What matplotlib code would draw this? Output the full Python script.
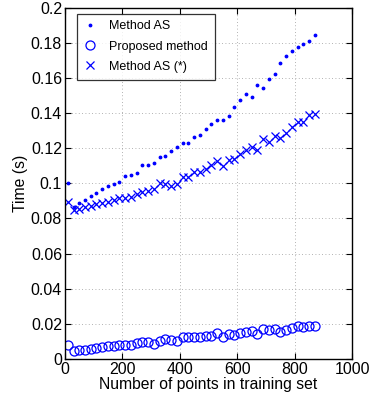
import matplotlib
matplotlib.use("Agg")
import matplotlib.pyplot as plt

# training set sizes
n_points = [10, 30, 50, 70, 90, 110, 130, 150, 170, 190, 210, 230, 250, 270, 290,
            310, 330, 350, 370, 390, 410, 430, 450, 470, 490, 510, 530, 550, 570,
            590, 610, 630, 650, 670, 690, 710, 730, 750, 770, 790, 810, 830, 850, 870]

# timings (s)
method_as = [0.1000, 0.0867, 0.0890, 0.0905, 0.0927, 0.0946, 0.0965, 0.0984, 0.0996,
             0.1009, 0.1041, 0.1047, 0.1060, 0.1104, 0.1104, 0.1113, 0.1151, 0.1157,
             0.1183, 0.1208, 0.1227, 0.1231, 0.1261, 0.1275, 0.1309, 0.1337, 0.1360,
             0.1360, 0.1383, 0.1434, 0.1476, 0.1507, 0.1490, 0.1559, 0.1540, 0.1595,
             0.1620, 0.1685, 0.1727, 0.1752, 0.1777, 0.1790, 0.1812, 0.1846]
proposed = [0.0078, 0.0047, 0.0049, 0.0051, 0.0059, 0.0063, 0.0067, 0.0072, 0.0076,
            0.0078, 0.0078, 0.0078, 0.0091, 0.0095, 0.0097, 0.0087, 0.0104, 0.0114,
            0.0110, 0.0101, 0.0123, 0.0125, 0.0127, 0.0127, 0.0131, 0.0133, 0.0146,
            0.0123, 0.0142, 0.0137, 0.0150, 0.0155, 0.0157, 0.0142, 0.0172, 0.0165,
            0.0172, 0.0155, 0.0165, 0.0177, 0.0186, 0.0182, 0.0187, 0.0186]
method_as_star = [0.0893, 0.0848, 0.0852, 0.0863, 0.0871, 0.0880, 0.0890, 0.0895, 0.0905,
                  0.0914, 0.0918, 0.0922, 0.0937, 0.0952, 0.0958, 0.0967, 0.1000, 0.0996,
                  0.0982, 0.0998, 0.1037, 0.1037, 0.1066, 0.1066, 0.1083, 0.1104, 0.1125,
                  0.1100, 0.1132, 0.1136, 0.1165, 0.1189, 0.1206, 0.1191, 0.1254, 0.1233,
                  0.1270, 0.1258, 0.1284, 0.1320, 0.1348, 0.1350, 0.1391, 0.1396]

xticks = [0, 200, 400, 600, 800, 1000]
yticks = [0, 0.02, 0.04, 0.06, 0.08, 0.1, 0.12, 0.14, 0.16, 0.18, 0.2]
ytick_labels = ["0", "0.02", "0.04", "0.06", "0.08", "0.1", "0.12", "0.14", "0.16", "0.18", "0.2"]

plt.rcParams["font.family"] = ["Liberation Sans", "DejaVu Sans"]
blue = "#0000ff"

fig = plt.figure(figsize=(3.73, 4.0), dpi=100)
ax = fig.add_axes([0.174, 0.1025, 0.770, 0.8785])

ax.plot(n_points, method_as, ".", color=blue, ms=3.5, label="Method AS")
ax.plot(n_points, proposed, "o", color=blue, mfc="none", ms=6.5, mew=0.9, label="Proposed method")
ax.plot(n_points, method_as_star, "x", color=blue, ms=6, mew=0.9, label="Method AS (*)")

ax.set_xlim(0, 1000)
ax.set_ylim(0, 0.2)
ax.set_xticks(xticks)
ax.set_yticks(yticks)
ax.set_yticklabels(ytick_labels)
ax.tick_params(direction="in", top=True, right=True, labelsize=11.5, length=4, width=0.8, pad=2)
ax.grid(True, linestyle=(0, (1, 3)), color="#999999", linewidth=0.6)
for s in ax.spines.values():
    s.set_linewidth(1.0)

ax.set_xlabel("Number of points in training set", fontsize=11.3, labelpad=0)
ax.set_ylabel("Time (s)", fontsize=11.3, labelpad=2)

leg = ax.legend(loc="upper left", bbox_to_anchor=(0.043, 0.983), fontsize=9.0,
                frameon=True, fancybox=False, edgecolor="black", handlelength=1.0,
                handletextpad=1.0, borderpad=0.55, labelspacing=0.65, borderaxespad=0)
leg.get_frame().set_linewidth(0.9)

fig.savefig("out.png", dpi=100)
